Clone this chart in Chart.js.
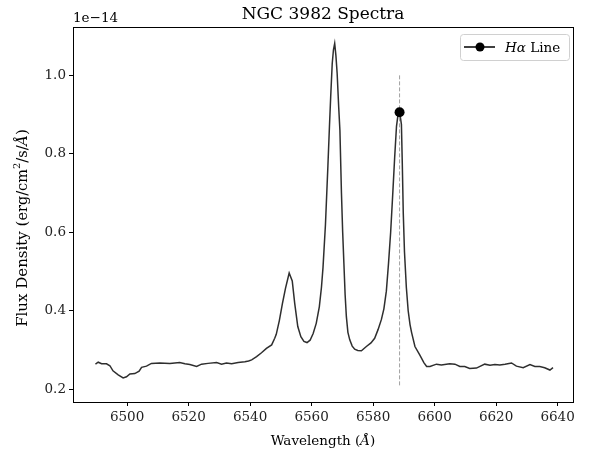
<!DOCTYPE html>
<html>
<head>
<meta charset="utf-8">
<script src="https://cdn.jsdelivr.net/npm/chart.js@4"></script>
<style>
  body { margin: 0; background: #fff; }
  canvas { display: block; }
</style>
</head>
<body>
<canvas id="c" width="595" height="452"></canvas>
<script>
// spectrum, flux in units of 1e-14 erg/cm^2/s/A
const wave = [6489.7, 6490.6, 6491.7, 6493.3, 6494.4, 6495.4, 6497.1, 6498.7, 6499.8, 6500.9,
  6502.5, 6503.9, 6504.7, 6506.3, 6507.9, 6510.6, 6513.9, 6517.1, 6518.8, 6520.4,
  6522.6, 6524.2, 6526.3, 6529.1, 6530.7, 6532.3, 6534.0, 6536.1, 6538.3, 6539.5,
  6540.5, 6542.1, 6543.7, 6545.3, 6547.0, 6548.0, 6548.5, 6549.5, 6550.5, 6551.5,
  6552.7, 6553.7, 6554.5, 6555.5, 6556.5, 6557.5, 6558.5, 6559.5, 6560.5, 6561.5,
  6562.5, 6563.2, 6563.7, 6564.5, 6565.3, 6565.8, 6566.2, 6566.7, 6567.1, 6567.5,
  6567.9, 6568.3, 6568.8, 6569.2, 6569.7, 6570.1, 6570.5, 6570.9, 6571.3, 6571.8,
  6572.4, 6573.2, 6574.0, 6575.0, 6576.2, 6577.8, 6579.3, 6580.5, 6581.6, 6582.7,
  6583.5, 6584.3, 6585.0, 6585.7, 6586.4, 6587.0, 6587.6, 6588.1, 6588.6, 6589.2,
  6589.5, 6589.8, 6590.2, 6590.8, 6591.4, 6592.0, 6592.5, 6593.6, 6595.2, 6596.5,
  6597.4, 6598.5, 6600.6, 6602.2, 6604.9, 6606.6, 6608.2, 6609.8, 6611.4, 6613.6,
  6616.3, 6618.0, 6619.6, 6621.2, 6622.9, 6625.0, 6626.6, 6628.8, 6631.0, 6632.6,
  6634.2, 6635.8, 6637.5, 6638.5];
const flux = [0.264, 0.269, 0.265, 0.265, 0.260, 0.247, 0.237, 0.229, 0.232, 0.239,
  0.240, 0.246, 0.256, 0.259, 0.266, 0.267, 0.266, 0.268, 0.265, 0.263,
  0.258, 0.264, 0.266, 0.268, 0.264, 0.267, 0.265, 0.268, 0.270, 0.272,
  0.275, 0.283, 0.293, 0.304, 0.313, 0.330, 0.340, 0.375, 0.418, 0.457,
  0.496, 0.476, 0.419, 0.360, 0.334, 0.322, 0.319, 0.325, 0.342, 0.368,
  0.410, 0.460, 0.510, 0.620, 0.770, 0.870, 0.945, 1.030, 1.065, 1.081,
  1.050, 1.005, 0.920, 0.860, 0.700, 0.600, 0.520, 0.440, 0.385, 0.345,
  0.326, 0.310, 0.302, 0.299, 0.298, 0.309, 0.318, 0.330, 0.352, 0.378,
  0.405, 0.450, 0.520, 0.600, 0.700, 0.790, 0.870, 0.900, 0.907, 0.875,
  0.770, 0.650, 0.550, 0.460, 0.400, 0.365, 0.345, 0.309, 0.287, 0.268,
  0.258, 0.258, 0.264, 0.262, 0.265, 0.264, 0.258, 0.258, 0.253, 0.254,
  0.264, 0.261, 0.263, 0.262, 0.264, 0.267, 0.259, 0.255, 0.263, 0.258,
  0.258, 0.255, 0.249, 0.255];

// H-alpha marker and guide line
const haWave = 6588.6;
const haFlux = 0.906;
const haLineY = [0.21, 1.0];

const xTicks = [6500, 6520, 6540, 6560, 6580, 6600, 6620, 6640];
const yTicks = [0.2, 0.4, 0.6, 0.8, 1.0];

const SERIF = "'DejaVu Serif', serif";

const decorPlugin = {
  id: 'decor',
  afterDraw(chart) {
    const ctx = chart.ctx;
    const a = chart.chartArea;
    ctx.save();
    // frame
    ctx.strokeStyle = '#000';
    ctx.lineWidth = 1;
    ctx.strokeRect(Math.round(a.left) + 0.5, Math.round(a.top) + 0.5,
      Math.round(a.right - a.left), Math.round(a.bottom - a.top));

    ctx.fillStyle = '#000';
    ctx.textBaseline = 'alphabetic';
    // title
    ctx.font = '17px ' + SERIF;
    ctx.textAlign = 'center';
    ctx.fillText('NGC 3982 Spectra', (a.left + a.right) / 2, 19);
    // offset text
    ctx.font = '13.5px ' + SERIF;
    ctx.textAlign = 'left';
    ctx.fillText('1e\u221214', a.left, 22);

    // x label
    const xl1 = 'Wavelength (', xl2 = 'Å', xl3 = ')';
    ctx.font = '13.5px ' + SERIF;
    let w1 = ctx.measureText(xl1).width, w3 = ctx.measureText(xl3).width;
    ctx.font = 'italic 13.5px ' + SERIF;
    let w2 = ctx.measureText(xl2).width;
    let x0 = (a.left + a.right) / 2 - (w1 + w2 + w3) / 2;
    ctx.font = '13.5px ' + SERIF;
    ctx.fillText(xl1, x0, 445);
    ctx.font = 'italic 13.5px ' + SERIF;
    ctx.fillText(xl2, x0 + w1, 445);
    ctx.font = '13.5px ' + SERIF;
    ctx.fillText(xl3, x0 + w1 + w2, 445);

    // y label (rotated)
    const parts = [
      ['Flux Density (', '15px ', 0],
      ['erg/cm', '14.5px ', 0],
      ['2', '10px ', -7],
      ['/s/', '14.5px ', 0],
      ['Å', 'italic 14.5px ', 0],
      [')', '15px ', 0]
    ];
    let total = 0;
    parts.forEach(p => { ctx.font = p[1] + SERIF; p.push(ctx.measureText(p[0]).width); total += p[3]; });
    ctx.translate(27, 228);
    ctx.rotate(-Math.PI / 2);
    let px = -total / 2;
    parts.forEach(p => {
      ctx.font = p[1] + SERIF;
      ctx.fillText(p[0], px, p[2]);
      px += p[3];
    });
    ctx.setTransform(1, 0, 0, 1, 0, 0);

    // legend
    const lx = 460, ly = 34, lw = 109, lh = 26;
    ctx.fillStyle = 'rgba(255,255,255,0.8)';
    ctx.strokeStyle = '#d0d0d0';
    ctx.lineWidth = 1;
    ctx.beginPath();
    ctx.roundRect(lx + 0.5, ly + 0.5, lw, lh, 3);
    ctx.fill();
    ctx.stroke();
    ctx.strokeStyle = '#000';
    ctx.lineWidth = 1.5;
    ctx.beginPath();
    ctx.moveTo(464, 47);
    ctx.lineTo(495, 47);
    ctx.stroke();
    ctx.fillStyle = '#000';
    ctx.beginPath();
    ctx.arc(480, 47, 4.5, 0, Math.PI * 2);
    ctx.fill();
    ctx.font = 'italic 13.5px ' + SERIF;
    ctx.fillText('Hα', 505, 52);
    let hw = ctx.measureText('Hα').width;
    ctx.font = '13.5px ' + SERIF;
    ctx.fillText(' Line', 505 + hw, 52);
    ctx.restore();
  }
};

new Chart(document.getElementById('c').getContext('2d'), {
  type: 'scatter',
  data: {
    datasets: [
      {
        label: 'Hα Line',
        data: [{ x: haWave, y: haFlux }],
        pointRadius: 5,
        pointBackgroundColor: '#000',
        pointBorderWidth: 0,
        order: 0
      },
      {
        data: haLineY.map(v => ({ x: haWave, y: v })),
        showLine: true,
        pointRadius: 0,
        borderColor: '#a0a0a0',
        borderWidth: 1,
        borderDash: [4, 2],
        order: 1
      },
      {
        data: wave.map((w, i) => ({ x: w, y: flux[i] })),
        showLine: true,
        pointRadius: 0,
        borderColor: 'rgba(0,0,0,0.82)',
        borderWidth: 1.5,
        tension: 0,
        order: 2
      }
    ]
  },
  options: {
    responsive: false,
    animation: false,
    devicePixelRatio: 1,
    layout: { padding: { top: 27, right: 22, left: 0, bottom: 0 } },
    plugins: {
      legend: { display: false },
      tooltip: { enabled: false },
      title: { display: false }
    },
    scales: {
      x: {
        type: 'linear',
        min: 6482.4,
        max: 6645.0,
        afterFit: s => { s.height = 50; },
        afterBuildTicks: s => { s.ticks = xTicks.map(v => ({ value: v })); },
        grid: { drawOnChartArea: false, drawTicks: true, tickLength: 4, color: '#000' },
        border: { display: false },
        ticks: {
          color: '#222',
          padding: 3,
          maxRotation: 0,
          autoSkip: false,
          font: { family: SERIF, size: 13.5 },
          callback: v => String(v)
        }
      },
      y: {
        type: 'linear',
        min: 0.1676,
        max: 1.123,
        afterFit: s => { s.width = 73; },
        afterBuildTicks: s => { s.ticks = yTicks.map(v => ({ value: v })); },
        grid: { drawOnChartArea: false, drawTicks: true, tickLength: 4, color: '#000' },
        border: { display: false },
        ticks: {
          color: '#222',
          padding: 3,
          autoSkip: false,
          font: { family: SERIF, size: 13.5 },
          callback: v => v.toFixed(1)
        }
      }
    }
  },
  plugins: [decorPlugin]
});
</script>
</body>
</html>
